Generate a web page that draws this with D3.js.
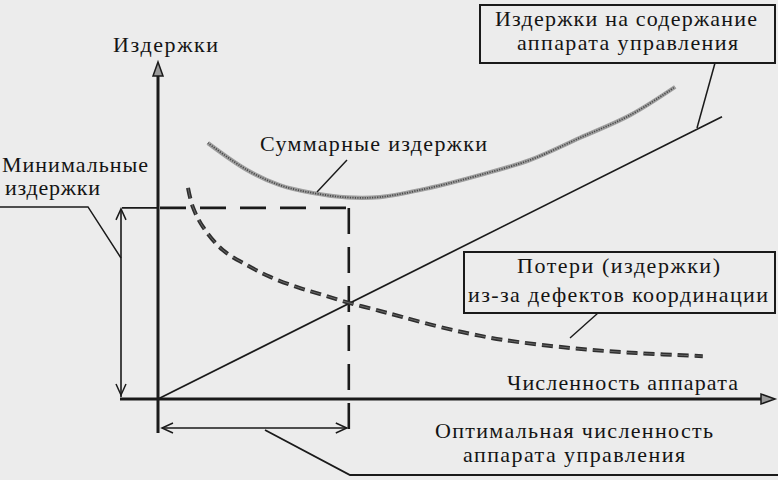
<!DOCTYPE html>
<html lang="ru">
<head>
<meta charset="UTF-8">
<title>Оптимальная численность аппарата управления</title>
<style>
  html, body { margin: 0; padding: 0; background: #ececec; }
  svg { display: block; }
  .lbl { font-family: "Liberation Serif", "DejaVu Serif", serif; font-size: 22px; fill: #141414; }
</style>
</head>
<body>
<svg id="chart" width="778" height="480"></svg>
<script src="https://d3js.org/d3.v7.min.js"></script>
<script>
// staff size (x) against costs (y), arbitrary units
const mgmtX = [0, 9.4];
const mgmtY = [0, 8.3];

const lossX = [0.50, 0.58, 0.75, 1.08, 1.48, 1.87, 2.32, 2.75, 3.20, 3.70, 4.08, 4.65, 5.20, 5.75, 6.87, 7.98, 9.08];
const lossY = [6.21, 5.65, 5.06, 4.38, 3.94, 3.59, 3.29, 3.06, 2.82, 2.59, 2.41, 2.14, 1.92, 1.74, 1.50, 1.35, 1.26];

const totalX = [0.83, 1.48, 2.03, 2.58, 3.15, 3.70, 4.53, 5.37, 6.20, 7.03, 7.87, 8.62];
const totalY = [7.53, 6.74, 6.29, 6.06, 5.93, 5.94, 6.21, 6.59, 7.03, 7.68, 8.35, 9.18];

const optimalStaff = 3.18;
const minimalCost = 5.62;

const yTitle = "Издержки";
const xTitle = "Численность аппарата";
const minCostLabel = ["Минимальные", "издержки"];
const totalLabel = "Суммарные издержки";
const mgmtLabel = ["Издержки на содержание", "аппарата управления"];
const lossLabel = ["Потери (издержки)", "из-за дефектов координации"];
const optimalLabel = ["Оптимальная численность", "аппарата управления"];

const svg = d3.select('#chart');
const x = d3.scaleLinear().domain([0, 10]).range([158, 758]);
const y = d3.scaleLinear().domain([0, 10]).range([399, 59]);

const ink = '#1a1a1a';
const x0 = x(0), y0 = y(0);
const xOpt = x(optimalStaff), yMin = y(minimalCost);

let line = (pts, w, col) => svg.append('path')
    .attr('d', d3.line()(pts))
    .attr('fill', 'none')
    .attr('stroke', col || ink)
    .attr('stroke-width', w || 1.4);

// text with a fixed width so the layout matches the printed figure
let label = (str, px, py, w) => svg.append('text')
    .attr('class', 'lbl')
    .attr('x', px).attr('y', py)
    .attr('textLength', w)
    .attr('lengthAdjust', 'spacing')
    .text(str);

let vHead = (tx, ty, dx, dy) => {
    // open arrow head; (dx,dy) is the direction the arrow points
    let len = 11, half = 5;
    let bx = tx - dx * len, by = ty - dy * len;
    line([[bx - dy * half, by + dx * half], [tx, ty], [bx + dy * half, by - dx * half]], 1.5);
};

// dashed reference lines for the optimum
line([[x0, yMin], [xOpt, yMin]], 2.6).attr('stroke-dasharray', '26,14').attr('stroke-dashoffset', -2);
line([[xOpt, yMin], [xOpt, 442]], 2.6).attr('stroke-dasharray', '26,13');
line([[122, yMin], [x0, yMin]], 1.6);

// axes
line([[120, y0], [770, y0]], 3.2);
line([[x0, 433], [x0, 70]], 3);
svg.append('path')
    .attr('d', `M${x0},62 L${x0 - 5},76 L${x0 + 5},76 Z`)
    .attr('fill', '#9a9a9a').attr('stroke', ink).attr('stroke-width', 1.5);
svg.append('path')
    .attr('d', `M775,${y0} L761,${y0 - 5} L761,${y0 + 5} Z`)
    .attr('fill', '#9a9a9a').attr('stroke', ink).attr('stroke-width', 1.5);

// management cost line
line(mgmtX.map((d, i) => [x(d), y(mgmtY[i])]), 1.7);

// coordination losses, dashed
let lossPath = d3.line().curve(d3.curveCatmullRom)(lossX.map((d, i) => [x(d), y(lossY[i])]));
svg.append('path').attr('d', lossPath).attr('fill', 'none')
    .attr('stroke', '#2e2e2e').attr('stroke-width', 4).attr('stroke-dasharray', '11,6');
svg.append('path').attr('d', lossPath).attr('fill', 'none')
    .attr('stroke', '#6e6e6e').attr('stroke-width', 0.9).attr('stroke-dasharray', '11,6');

// total costs, grey textured
let totalPath = d3.line().curve(d3.curveCatmullRom)(totalX.map((d, i) => [x(d), y(totalY[i])]));
svg.append('path').attr('d', totalPath).attr('fill', 'none')
    .attr('stroke', '#a0a0a0').attr('stroke-width', 4.2);
svg.append('path').attr('d', totalPath).attr('fill', 'none')
    .attr('stroke', '#4a4a4a').attr('stroke-width', 1.8).attr('stroke-dasharray', '1.2,1.3');

// minimal cost double arrow
line([[121, yMin + 2], [121, y0 - 2]], 1.6);
vHead(121, yMin + 1, 0, -1);
vHead(121, y0 - 4, 0, 1);
line([[120, y0], [x0, y0]], 1.6);

// optimal staff double arrow
line([[x0 + 4, 428], [xOpt - 2, 428]], 1.6);
vHead(x0 + 4, 428, -1, 0);
vHead(xOpt - 2, 428, 1, 0);

// leader lines
line([[0, yMin - 1], [88, yMin - 1], [121, 258]], 1.5);
line([[347, 160], [317, 192]], 1.4);
line([[715, 63], [697, 128]], 1.5);
line([[598, 313], [570, 338]], 1.4);
line([[265, 430], [350, 475], [778, 475]], 1.8);

// boxes
svg.append('rect').attr('x', 480).attr('y', 5).attr('width', 295).attr('height', 58)
    .attr('fill', 'none').attr('stroke', ink).attr('stroke-width', 2);
svg.append('rect').attr('x', 464).attr('y', 252).attr('width', 311).attr('height', 61)
    .attr('fill', '#ececec').attr('stroke', ink).attr('stroke-width', 2);

// labels
label(yTitle, 113, 52, 105);
label(minCostLabel[0], 2, 172, 146);
label(minCostLabel[1], 5, 195, 95);
label(totalLabel, 260, 151, 227);
label(mgmtLabel[0], 495, 26, 262);
label(mgmtLabel[1], 517, 50, 221);
label(lossLabel[0], 517, 273, 203);
label(lossLabel[1], 468, 302, 300);
label(xTitle, 507, 390, 231);
label(optimalLabel[0], 435, 438, 278);
label(optimalLabel[1], 463, 462, 222);
</script>
</body>
</html>
